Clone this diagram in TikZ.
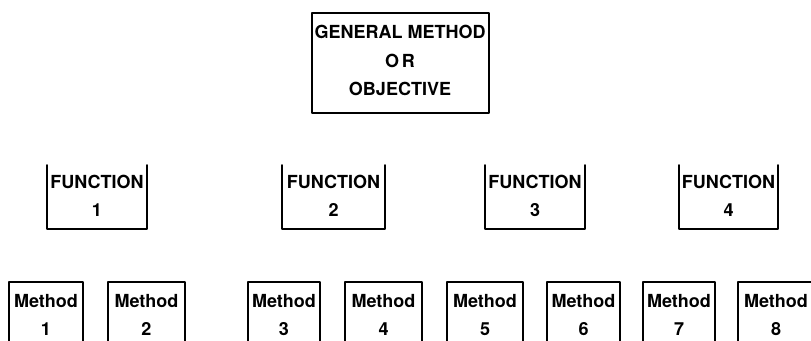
\documentclass[tikz,border=0pt]{standalone}
\usepackage{fontspec}
\setmainfont{TeX Gyre Heros}
\begin{document}
\begin{tikzpicture}[x=1pt,y=-1pt,
  lbl/.style={font=\bfseries\fontsize{18}{20}\selectfont, anchor=base, inner sep=0pt},
  edge/.style={line width=1.6pt, line cap=round, line join=round}]
\useasboundingbox (0,0) rectangle (811,340);
% General box
\draw[edge] (312,13) rectangle (489,113);
\node[lbl] (g1) at (400,38) {GENERAL METHOD};
\node[lbl] (g2) at (400,67) {O\,R};
\node[lbl] (g3) at (400,95) {OBJECTIVE};
% Function boxes (open at top)
\foreach \l/\r/\n in {47/147/1,282/385/2,485/585/3,679/778/4}{
  \draw[edge] (\l,165) -- (\l,229) -- (\r,229) -- (\r,165);
  \node[lbl] (f\n) at ({(\l+\r)/2},188) {FUNCTION};
  \node[lbl] (fn\n) at ({(\l+\r)/2},216) {\n};
}
% Method boxes (open at bottom)
\foreach \l/\r/\n in {9/83/1,108/185/2,248/320/3,345/422/4,447/523/5,547/620/6,643/715/7,738/814/8}{
  \draw[edge] (\l,345) -- (\l,282) -- (\r,282) -- (\r,345);
  \node[lbl] (m\n) at ({(\l+\r)/2},307) {Method};
  \node[lbl] (mn\n) at ({(\l+\r)/2},335) {\n};
}
\end{tikzpicture}
\end{document}
